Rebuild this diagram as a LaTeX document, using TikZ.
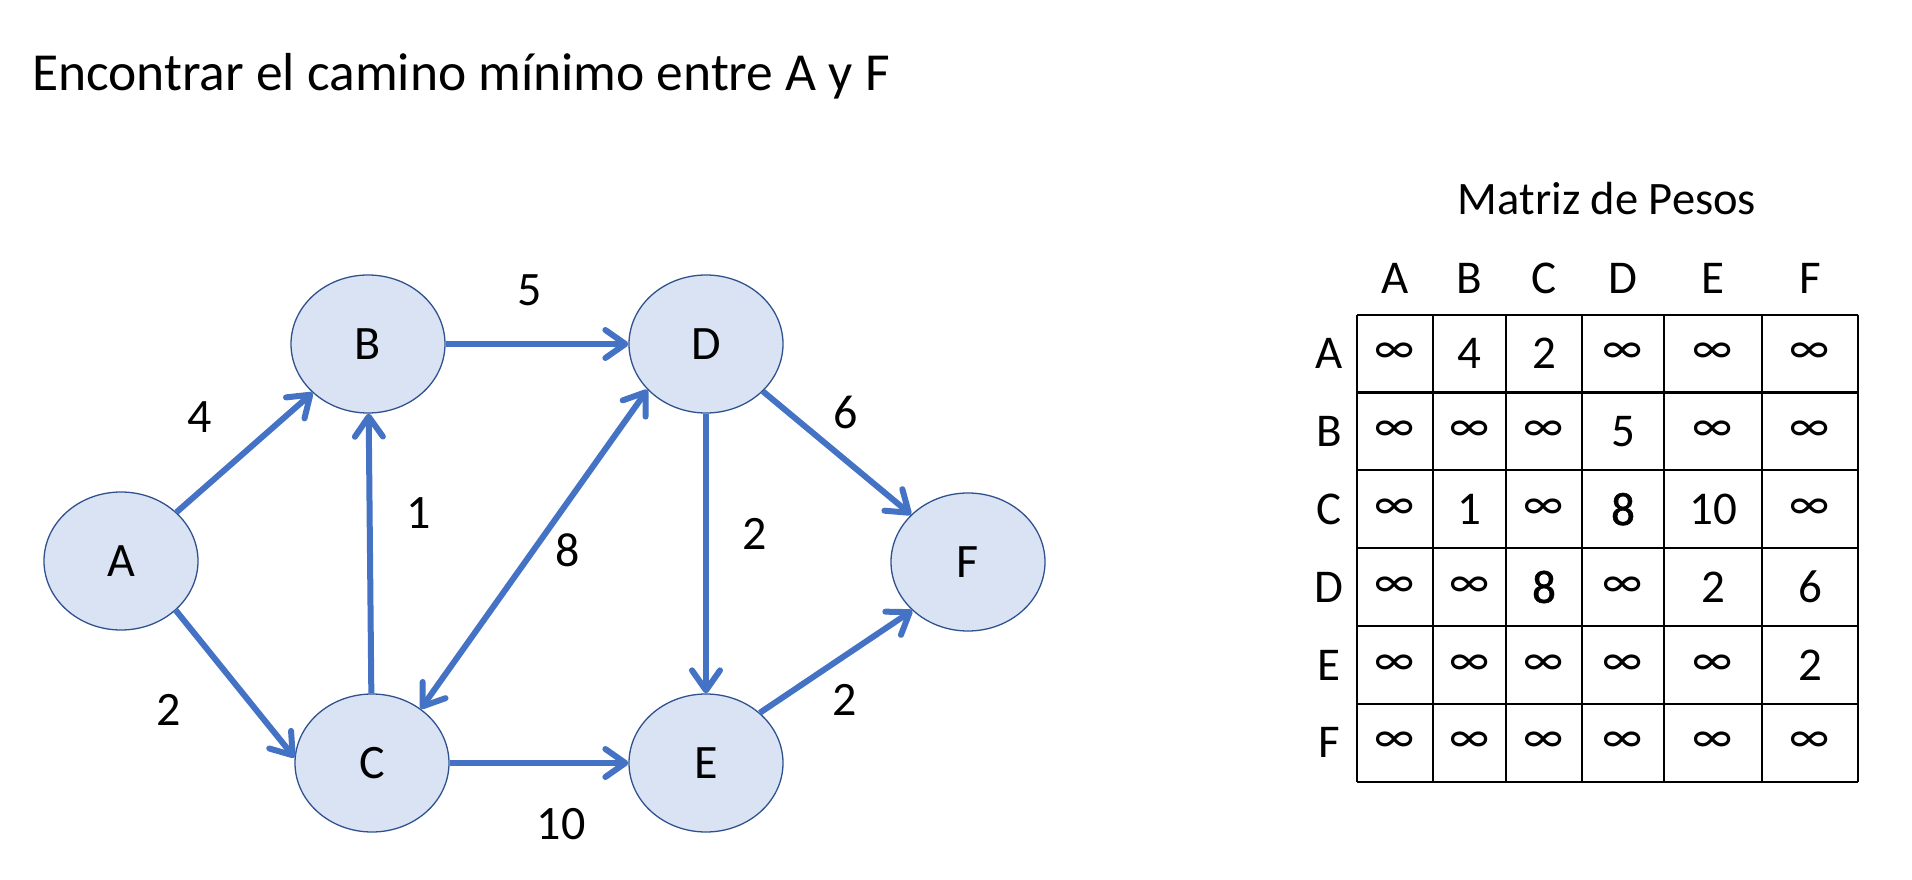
\documentclass[tikz,border=0pt]{standalone}
\usepackage{fontspec}
\setmainfont{Carlito}
\newfontface\semibold[FakeBold=1.2]{Carlito}
\usetikzlibrary{shapes.geometric,arrows.meta}
\definecolor{edgeblue}{HTML}{4472C4}
\definecolor{nodefill}{HTML}{DAE3F3}
\definecolor{nodeline}{HTML}{2F528F}
\tikzset{
  vertex/.style={ellipse, draw=nodeline, line width=1.3pt, fill=nodefill, minimum width=154pt, minimum height=138pt, inner sep=0pt, font=\fontsize{48}{56}\selectfont},
  barb/.tip={Straight Barb[length=20pt,width=28pt,line width=6pt,line cap=round,line join=round]},
  edge/.style={draw=edgeblue, line width=6pt, -barb},
  wlabel/.style={font=\fontsize{48}{56}\selectfont, inner sep=0pt},
  cell/.style={font=\fontsize{47}{54}\selectfont, inner sep=0pt},
  grid/.style={line width=2.2pt, black}
}
\begin{document}
\begin{tikzpicture}[x=1pt,y=-1pt]
\useasboundingbox (0,0) rectangle (1912,880);
\node[anchor=base west, font=\fontsize{53.5}{64}\selectfont, inner sep=0pt] (title) at (32,91) {Encontrar el camino mínimo entre A y F};
% graph
\node[vertex] (A) at (121,561) {A};
\node[vertex] (B) at (368,344) {B};
\node[vertex] (D) at (706,344) {D};
\node[vertex] (C) at (372,763) {C};
\node[vertex] (E) at (706,763) {E};
\node[vertex] (F) at (968,562) {F};
\draw[edge] (A) -- (B);
\draw[edge] (A.-42) -- (C.176);
\draw[edge] (C) -- (B);
\draw[edge] (B) -- (D);
\draw[edge,barb-barb] (C.48) -- (D.218);
\draw[edge] (D) -- (E);
\draw[edge] (D) -- (F);
\draw[edge] (E.43) -- (F.221);
\draw[edge] (C) -- (E);
\node[wlabel] (l4) at (200,417) {4};
\node[wlabel] (l5) at (530,290) {5};
\node[wlabel] (l1) at (419,513) {1};
\node[wlabel] (l8) at (568,550) {8};
\node[wlabel] (l2a) at (755,534) {2};
\node[wlabel] (l6) at (846,412) {6};
\node[wlabel] (l2b) at (169,710) {2};
\node[wlabel] (l10) at (561,824) {10};
\node[wlabel] (l2c) at (845,700) {2};
% matrix
\node[font=\fontsize{46.5}{54}\selectfont, inner sep=0pt] (mt) at (1607,199) {Matriz de Pesos};
\foreach \x in {1357,1433,1506,1582,1664,1762,1858}
  \draw[grid] (\x,314.6) -- (\x,781.6);
\foreach \y in {314.6,392.4,470.3,548.1,626,703.8,781.6}
  \draw[grid] (1357,\y) -- (1858,\y);
\foreach \l/\x in {A/1395,B/1469.5,C/1544,D/1623,E/1713,F/1810}
  \node[cell] (h\l) at (\x,278) {\l};
\foreach \l/\y in {A/353.5,B/431.4,C/509.2,D/587,E/665,F/742.7}
  \node[cell] (r\l) at (1329,\y) {\l};
\def\I{∞}
\foreach \r/\y/\a/\b/\c/\d/\e/\f in {
  A/353.5/\I/4/2/\I/\I/\I,
  B/431.4/\I/\I/\I/5/\I/\I,
  C/509.2/\I/1/\I/{\semibold 8}/10/\I,
  D/587/\I/\I/{\semibold 8}/\I/2/6,
  E/665/\I/\I/\I/\I/\I/2,
  F/742.7/\I/\I/\I/\I/\I/\I}{
  \node[cell] (c\r A) at (1395,\y) {\a};
  \node[cell] (c\r B) at (1469.5,\y) {\b};
  \node[cell] (c\r C) at (1544,\y) {\c};
  \node[cell] (c\r D) at (1623,\y) {\d};
  \node[cell] (c\r E) at (1713,\y) {\e};
  \node[cell] (c\r F) at (1810,\y) {\f};
}
\end{tikzpicture}
\end{document}
